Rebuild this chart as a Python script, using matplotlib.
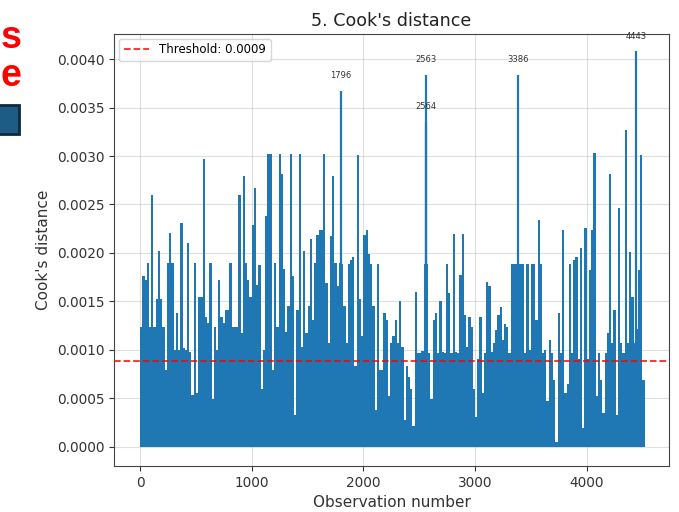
import numpy as np
import matplotlib
matplotlib.use("Agg")
import matplotlib.pyplot as plt
from matplotlib.patches import Rectangle

# ---------------------------------------------------------------------------
# Data
# ---------------------------------------------------------------------------
n_obs = 4520
threshold = 4 / n_obs            # rule-of-thumb cut-off 4/n

# Cook's distance, largest value in each block of 20 consecutive
# observations (units of 1e-3)
block_size = 20
block_cooks = [
    1.24, 1.76, 1.72, 1.90, 1.24, 2.60, 1.24, 1.52, 2.02, 1.52,   # 0
    1.24, 0.79, 1.90, 2.21, 1.90, 1.00, 1.38, 1.00, 2.31, 1.02,   # 10
    1.00, 2.10, 0.98, 0.53, 1.90, 0.55, 1.55, 1.55, 2.97, 1.34,   # 20
    1.28, 1.90, 0.49, 1.24, 1.00, 1.72, 1.34, 1.28, 1.41, 1.41,   # 30
    1.90, 1.24, 1.24, 1.24, 2.60, 1.17, 2.79, 1.90, 1.72, 1.55,   # 40
    2.29, 2.67, 1.67, 1.88, 0.59, 1.00, 2.38, 3.02, 3.02, 0.79,   # 50
    1.90, 1.24, 3.02, 2.81, 1.83, 1.18, 1.45, 3.02, 1.76, 0.33,   # 60
    1.41, 3.02, 1.03, 2.02, 1.17, 1.45, 2.14, 1.31, 1.90, 2.19,   # 70
    2.24, 2.24, 3.02, 1.69, 1.07, 2.17, 2.79, 1.90, 1.66, 1.90,   # 80
    1.89, 1.45, 1.07, 1.89, 1.93, 1.96, 0.83, 3.01, 1.52, 1.14,   # 90
    2.19, 2.24, 1.99, 1.89, 1.45, 0.38, 1.89, 0.79, 0.79, 1.38,   # 100
    1.31, 0.52, 1.07, 1.14, 1.31, 1.07, 1.50, 1.03, 0.28, 0.83,   # 110
    0.72, 0.59, 0.21, 1.60, 0.97, 0.97, 0.99, 1.89, 1.89, 0.97,   # 120
    0.49, 1.31, 1.38, 0.97, 1.50, 0.98, 0.97, 1.89, 1.59, 0.97,   # 130
    2.20, 0.98, 0.97, 1.77, 2.20, 1.36, 1.03, 1.34, 1.24, 0.59,   # 140
    0.31, 0.90, 1.34, 0.55, 0.97, 1.70, 1.66, 0.98, 1.07, 1.20,   # 150
    1.36, 1.44, 1.10, 1.27, 1.24, 0.97, 1.89, 1.89, 1.89, 1.89,   # 160
    1.89, 1.89, 0.97, 1.89, 1.00, 1.89, 1.89, 1.31, 2.34, 1.89,   # 170
    0.97, 1.00, 0.47, 1.10, 0.97, 0.69, 0.05, 1.38, 0.97, 2.24,   # 180
    0.55, 0.65, 1.89, 0.97, 1.93, 1.96, 0.90, 2.05, 0.19, 2.26,   # 190
    0.90, 1.82, 2.24, 3.03, 0.52, 0.97, 0.69, 0.35, 0.97, 1.17,   # 200
    2.81, 1.07, 1.41, 0.33, 2.46, 1.07, 0.97, 3.27, 1.07, 2.01,   # 210
    1.55, 1.07, 1.21, 1.82, 3.01, 0.69,                           # 220
]

# Most influential observations (labelled)
top_obs = [1796, 2563, 2564, 3386, 4443]
top_cooks = [0.00367, 0.00384, 0.00335, 0.00384, 0.00408]

# ---------------------------------------------------------------------------
# Figure
# ---------------------------------------------------------------------------
blue = "#1f77b4"
fig = plt.figure(figsize=(6.79, 5.12), dpi=100)
ax = fig.add_axes([0.168, 0.0898, 0.817, 0.8438])

edges = np.arange(len(block_cooks) + 1) * block_size
ax.stairs(np.asarray(block_cooks) * 1e-3, edges, fill=True,
          color=blue, baseline=0, zorder=2)
ax.vlines(top_obs, 0, top_cooks, color=blue, linewidth=1.6, zorder=2)

for o, v in zip(top_obs, top_cooks):
    ax.annotate(str(o), (o, v), xytext=(0, 11), textcoords="offset points",
                ha="center", va="center", fontsize=6, color="#333333")

ax.axhline(threshold, color="red", linestyle="--", linewidth=1.3,
           alpha=0.85, zorder=3, label=f"Threshold: {threshold:.4f}")

ax.set_xlim(-233, 4736)
ax.set_ylim(-0.0002, 0.00426)
ax.set_xticks([0, 1000, 2000, 3000, 4000])
ax.set_yticks(np.arange(0, 0.00401, 0.0005))
ax.yaxis.set_major_formatter(matplotlib.ticker.FormatStrFormatter("%.4f"))
ax.tick_params(labelsize=9.8, colors="#333333", labelcolor="#333333")
ax.grid(True, color="#b0b0b0", alpha=0.4, linewidth=0.8, zorder=0)
ax.set_axisbelow(True)
for s in ax.spines.values():
    s.set_color("#444444")

ax.set_title("5. Cook's distance", fontsize=12.6, color="#222222")
ax.set_xlabel("Observation number", fontsize=11, color="#333333")
ax.set_ylabel("Cook's distance", fontsize=11, color="#333333")
ax.legend(loc="upper left", fontsize=8.5, handlelength=2.2,
          borderaxespad=0.4, framealpha=0.8)

# slide fragments along the left edge
fig.text(1 / 679, 1 - 38 / 512, "s", color="#ff0000", fontsize=27,
         fontweight="bold", family="Liberation Sans", ha="left", va="center")
fig.text(1 / 679, 1 - 76 / 512, "e", color="#ff0000", fontsize=27,
         fontweight="bold", family="Liberation Sans", ha="left", va="center")
fig.add_artist(Rectangle((-0.01, 1 - 134 / 512), 0.01 + 19 / 679, 29 / 512,
                         transform=fig.transFigure, facecolor="#1d5c85",
                         edgecolor="#0e2a3c", linewidth=2))

fig.savefig("out.png", dpi=100)
